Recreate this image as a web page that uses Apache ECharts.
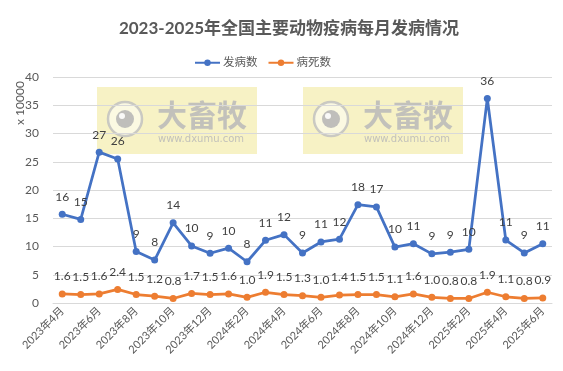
<!DOCTYPE html>
<html>
<head>
<meta charset="utf-8">
<script src="https://cdn.jsdelivr.net/npm/echarts@6/dist/echarts.min.js"></script>
<style>html,body{margin:0;padding:0;background:#fff}#c{width:563px;height:371px}</style>
</head>
<body>
<div id="c"></div>
<script>
var categories = ['2023年4月','2023年5月','2023年6月','2023年7月','2023年8月','2023年9月','2023年10月','2023年11月','2023年12月',
  '2024年1月','2024年2月','2024年3月','2024年4月','2024年5月','2024年6月','2024年7月','2024年8月','2024年9月','2024年10月','2024年11月','2024年12月',
  '2025年1月','2025年2月','2025年3月','2025年4月','2025年5月','2025年6月'];
var casesValues = [15.7,14.8,26.7,25.5,9.1,7.6,14.2,10.1,8.8,9.7,7.3,11.1,12.1,8.85,10.8,11.3,17.4,17.0,9.9,10.5,8.7,9.0,9.5,36.2,11.15,8.85,10.5];
var casesLabels = ['16','15','27','26','9','8','14','10','9','10','8','11','12','9','11','12','18','17','10','11','9','9','10','36','11','9','11'];
var deathsValues = [1.6,1.5,1.6,2.4,1.5,1.2,0.8,1.7,1.5,1.6,1.0,1.9,1.5,1.3,1.0,1.4,1.5,1.5,1.1,1.6,1.0,0.8,0.8,1.9,1.1,0.8,0.9];
var deathsLabels = ['1.6','1.5','1.6','2.4','1.5','1.2','0.8','1.7','1.5','1.6','1.0','1.9','1.5','1.3','1.0','1.4','1.5','1.5','1.1','1.6','1.0','0.8','0.8','1.9','1.1','0.8','0.9'];
var yTicks = [0,5,10,15,20,25,30,35,40];

var FF = 'Lato, "Noto Sans CJK SC", sans-serif';
var chart = echarts.init(document.getElementById('c'), null, {renderer:'canvas'});

function watermark(x, y) {
  return {
    type: 'group', x: x, y: y, z: 100,
    children: [
      {type:'rect', shape:{x:0,y:0,width:160,height:67}, style:{fill:'rgba(235,222,110,0.4)'}},
      {type:'circle', shape:{cx:28,cy:32,r:17}, style:{fill:'rgba(255,255,255,0.5)', stroke:'rgba(190,190,190,0.8)', lineWidth:2.5}},
      {type:'circle', shape:{cx:28,cy:32,r:9}, style:{fill:'rgba(180,180,180,0.85)'}},
      {type:'circle', shape:{cx:25,cy:29,r:3}, style:{fill:'rgba(255,255,255,0.9)'}},
      {type:'text', style:{text:'大畜牧', x:60, y:13, fill:'rgba(185,185,185,0.85)', font:'bold 30px "Noto Sans CJK SC"'}},
      {type:'text', style:{text:'www.dxumu.com', x:61, y:47, fill:'rgba(185,185,185,0.85)', font:'10px "DejaVu Sans"'}}
    ]
  };
}

chart.setOption({
  backgroundColor: '#fff',
  animation: false,
  textStyle: {fontFamily: FF},
  title: {
    text: '2023-2025年全国主要动物疫病每月发病情况',
    left: 284, top: 15, textAlign: 'center',
    textStyle: {fontSize: 17, fontWeight: 'bold', color: '#595959', fontFamily: FF}
  },
  legend: {
    data: ['发病数','病死数'],
    left: 189, top: 52,
    itemWidth: 25, itemHeight: 8, itemGap: 10,
    textStyle: {fontSize: 11.5, color: '#595959', fontFamily: FF, padding: [0,0,0,-2]}
  },
  grid: {left: 53, right: 11, top: 77, bottom: 68, containLabel: false},
  xAxis: {
    type: 'category', data: categories, boundaryGap: true,
    axisLine: {show: true, lineStyle: {color: '#d9d9d9'}},
    axisTick: {show: false},
    axisLabel: {interval: 1, rotate: 45, fontSize: 11, color: '#595959', margin: 6, fontFamily: FF}
  },
  yAxis: {
    type: 'value', min: yTicks[0], max: yTicks[yTicks.length-1], interval: 5,
    axisLine: {show: false}, axisTick: {show: false},
    splitLine: {lineStyle: {color: '#d9d9d9'}},
    axisLabel: {fontSize: 12, color: '#595959', margin: 14, fontFamily: FF}
  },
  graphic: [
    {type:'text', x: 14, y: 125, rotation: Math.PI/2, z: 50,
      style:{text:'x 10000', fill:'#595959', font:'12px ' + FF}},
    watermark(97, 87),
    watermark(303, 87)
  ],
  series: [
    {
      name: '发病数', type: 'line', data: casesValues,
      symbol: 'circle', symbolSize: 7,
      lineStyle: {color: '#4472C4', width: 2.75},
      itemStyle: {color: '#4472C4'},
      label: {show: true, position: 'top', distance: 8, fontSize: 12, color: '#404040', fontFamily: FF,
        formatter: function(p){ return casesLabels[p.dataIndex]; }}
    },
    {
      name: '病死数', type: 'line', data: deathsValues,
      symbol: 'circle', symbolSize: 7,
      lineStyle: {color: '#ED7D31', width: 2.75},
      itemStyle: {color: '#ED7D31'},
      label: {show: true, position: 'top', distance: 8, fontSize: 12, color: '#404040', fontFamily: FF,
        formatter: function(p){ return deathsLabels[p.dataIndex]; }}
    }
  ]
});
</script>
</body>
</html>
